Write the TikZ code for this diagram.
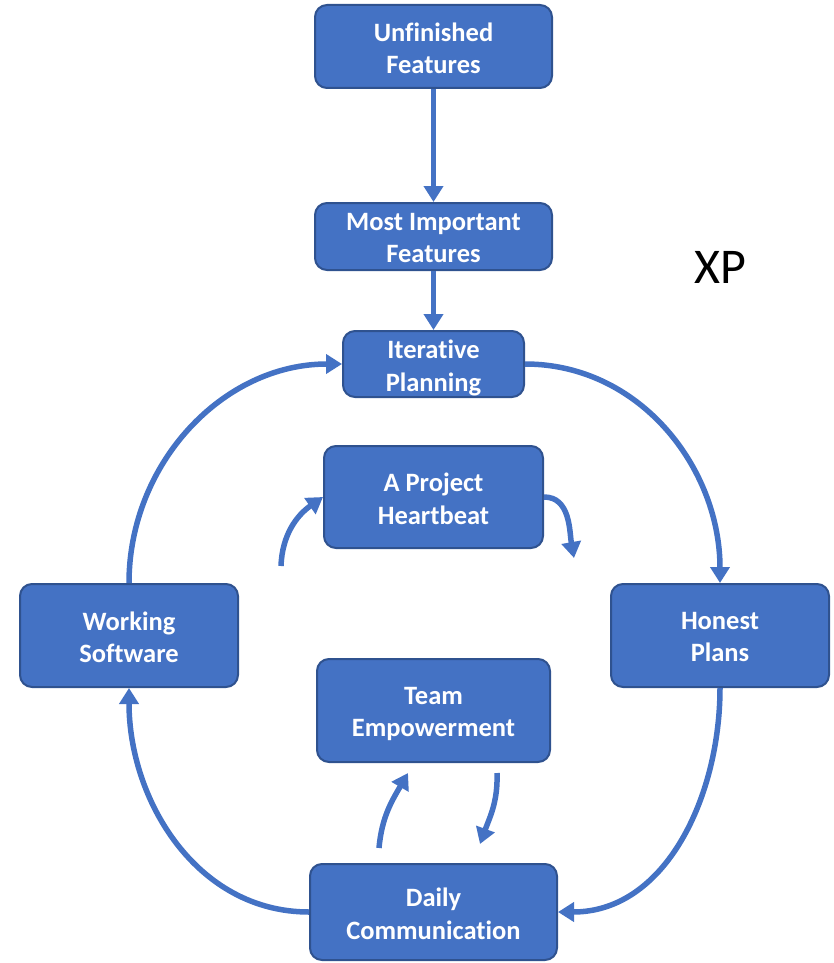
\documentclass[tikz,border=0pt]{standalone}
\usepackage{fontspec}
\setmainfont{Carlito}[Ligatures=NoCommon]
\usetikzlibrary{arrows.meta}
\definecolor{boxfill}{HTML}{4472C4}
\definecolor{boxline}{HTML}{2F528F}
\definecolor{flowblue}{HTML}{4472C4}

\begin{document}
\begin{tikzpicture}[x=1pt,y=-1pt,
  box/.style={draw=boxline, line width=2pt, fill=boxfill, rounded corners=12pt, inner sep=0pt,
    label={[boxtext]center:{#1}}},
  boxtext/.style={text=white, font=\bfseries\fontsize{26.5}{32.5}\selectfont, align=center,
    inner sep=0pt, yshift=-6.5pt, execute at begin node=\strut, execute at end node=\strut},
  flow/.style={draw=flowblue, line width=5.5pt, -{Triangle[length=16pt,width=19pt]}}]
\useasboundingbox (0,0) rectangle (833,963);

% process boxes
\node[box={Unfinished\\Features},     minimum width=237pt, minimum height=83pt]  (uf) at (433.5,46.5)  {};
\node[box={Most Important\\Features}, minimum width=237pt, minimum height=67pt]  (mi) at (433.5,236.5) {};
\node[box={Iterative\\Planning},      minimum width=181pt, minimum height=66pt]  (ip) at (433.5,364)   {};
\node[box={A Project\\Heartbeat},     minimum width=219pt, minimum height=102pt] (hb) at (433.5,497)   {};
\node[box={Working\\Software},        minimum width=218pt, minimum height=103pt] (ws) at (129,635.5)   {};
\node[box={Honest\\Plans},            minimum width=218pt, minimum height=103pt] (hp) at (720,635.5)   {};
\node[box={Team\\Empowerment},        minimum width=233pt, minimum height=103pt] (te) at (433.5,710.5) {};
\node[box={Daily\\Communication},     minimum width=247pt, minimum height=96pt]  (dc) at (433.5,912)   {};

\node[font=\fontsize{50}{60}\selectfont] (xp) at (720,267) {XP};

% feature funnel
\draw[flow] (uf) -- (mi);
\draw[flow] (mi) -- (ip);

% outer cycle
\draw[flow] (ip.east) to[out=0,in=90] (hp.north);
\draw[flow] (hp.south) to[out=-90,in=0] (dc.east);
\draw[flow] (dc.west) to[out=180,in=-90] (ws.south);
\draw[flow] (ws.north) to[out=90,in=180] (ip.west);

% heartbeat arrows
\coordinate (hbin) at (281,566);
\coordinate (hbout) at (574,558);
\draw[flow] (hbin) to[out=88,in=215] (hb.west);
\draw[flow] (hb.east) to[out=0,in=100] (hbout);

% empowerment arrows
\coordinate (teup0) at (379,848);
\coordinate (teup1) at (408,773);
\coordinate (tedn0) at (497,773);
\coordinate (tedn1) at (480,844);
\draw[flow] (teup0) to[out=85,in=240] (teup1);
\draw[flow] (tedn0) to[out=-88,in=70] (tedn1);
\end{tikzpicture}
\end{document}
